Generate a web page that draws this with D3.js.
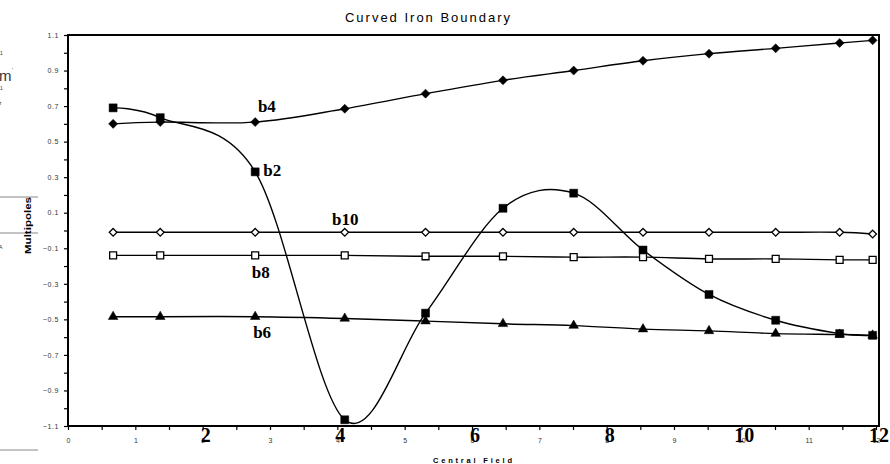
<!DOCTYPE html>
<html>
<head>
<meta charset="utf-8">
<script src="https://cdn.jsdelivr.net/npm/d3@7"></script>
<style>
  body { margin: 0; background: #fff; }
  svg { display: block; }
</style>
</head>
<body>
<svg class="chart" width="890" height="464"></svg>
<script>
const fieldValues = [0.67, 1.37, 2.78, 4.11, 5.31, 6.46, 7.51, 8.54, 9.52, 10.51, 11.46, 11.95];
const b2 = [0.69, 0.635, 0.33, -1.065, -0.465, 0.125, 0.21, -0.11, -0.36, -0.505, -0.58, -0.59];
const b4 = [0.60, 0.61, 0.61, 0.685, 0.77, 0.845, 0.90, 0.955, 0.995, 1.025, 1.055, 1.07];
const b6 = [-0.485, -0.485, -0.485, -0.495, -0.51, -0.525, -0.535, -0.555, -0.565, -0.58, -0.585, -0.59];
const b8 = [-0.14, -0.14, -0.14, -0.14, -0.145, -0.145, -0.15, -0.15, -0.16, -0.16, -0.165, -0.165];
const b10 = [-0.01, -0.01, -0.01, -0.01, -0.01, -0.01, -0.01, -0.01, -0.01, -0.01, -0.01, -0.02];

const yTicks = d3.range(-11, 12).map(d => d / 10);
const yLabels = [1.1, 0.9, 0.7, 0.5, 0.3, 0.1, -0.1, -0.3, -0.5, -0.7, -0.9, -1.1];
const xTicks = d3.range(0, 25).map(d => d / 2);
const bigXLabels = [2, 4, 6, 8, 10, 12];

// label anchors in data units
const seriesLabels = [
  { name: 'b4', field: 2.82, value: 0.667 },
  { name: 'b2', field: 2.9, value: 0.305 },
  { name: 'b10', field: 3.92, value: 0.03 },
  { name: 'b8', field: 2.73, value: -0.267 },
  { name: 'b6', field: 2.75, value: -0.605 }
];

const series = [
  { name: 'b2', values: b2, symbol: d3.symbolSquare, size: 64, fill: '#000' },
  { name: 'b4', values: b4, symbol: d3.symbolDiamond2, size: 52, fill: '#000' },
  { name: 'b6', values: b6, symbol: d3.symbolTriangle, size: 40, fill: '#000' },
  { name: 'b8', values: b8, symbol: d3.symbolSquare, size: 48, fill: '#fff' },
  { name: 'b10', values: b10, symbol: d3.symbolDiamond2, size: 38, fill: '#fff' }
];

const margin = { top: 35, right: 11, bottom: 38, left: 68 };
const width = 890 - margin.left - margin.right;
const height = 464 - margin.top - margin.bottom;

const x = d3.scaleLinear().domain([0, 12]).range([0, width - 3]);
const y = d3.scaleLinear().domain([-1.1, 1.1]).range([height, 0]);

const svg = d3.select('svg.chart');

// scraps of the neighbouring figure at the left edge
const scraps = svg.append('g').attr('fill', '#333').attr('font-family', 'Liberation Sans, Arial, sans-serif');
[197, 233, 450].forEach(yy => {
  scraps.append('line').attr('x1', 0).attr('x2', 38).attr('y1', yy).attr('y2', yy)
    .attr('stroke', '#888').attr('stroke-width', 1);
});
scraps.append('text').attr('x', -1).attr('y', 81).attr('font-size', 15).text('m');
scraps.append('text').attr('x', 12).attr('y', 72).attr('font-size', 5).text('\'');
scraps.append('text').attr('x', 0).attr('y', 55).attr('font-size', 5).text('1');
scraps.append('text').attr('x', 0).attr('y', 90).attr('font-size', 5).text('1');
scraps.append('text').attr('x', -1).attr('y', 105).attr('font-size', 5).text('z');
scraps.append('text').attr('x', -1).attr('y', 249).attr('font-size', 5).text('A');

svg.append('text')
  .attr('x', 345)
  .attr('y', 22)
  .attr('font-family', 'Liberation Sans, Arial, sans-serif')
  .attr('font-size', 13)
  .attr('textLength', 165)
  .attr('lengthAdjust', 'spacing')
  .attr('fill', '#000')
  .text('Curved Iron Boundary');

const canvas = svg.append('g').attr('transform', `translate(${margin.left}, ${margin.top})`);

canvas.append('defs').append('clipPath').attr('id', 'plot-clip')
  .append('rect').attr('x', 0).attr('y', 0).attr('width', width).attr('height', height);

const yAxis = d3.axisLeft(y)
  .tickValues(yTicks)
  .tickSize(4)
  .tickPadding(5)
  .tickFormat(d => yLabels.some(v => Math.abs(v - d) < 1e-9) ? d3.format('.1f')(d) : '');

canvas.append('g')
  .attr('class', 'y-axis')
  .call(yAxis)
  .call(g => g.select('.domain').remove())
  .call(g => g.selectAll('.tick line').attr('stroke', '#000').attr('stroke-width', 1.2))
  .call(g => g.selectAll('.tick text')
    .attr('font-family', 'Liberation Sans, Arial, sans-serif')
    .attr('font-size', 7)
    .attr('letter-spacing', 0.6)
    .attr('fill', '#333'));

const xAxis = d3.axisBottom(x)
  .tickValues(xTicks)
  .tickSize(4)
  .tickPadding(8)
  .tickFormat(d => Number.isInteger(d) ? d : '');

canvas.append('g')
  .attr('class', 'x-axis')
  .attr('transform', `translate(0, ${height})`)
  .call(xAxis)
  .call(g => g.select('.domain').remove())
  .call(g => g.selectAll('.tick line').attr('stroke', '#000').attr('stroke-width', 1.2))
  .call(g => g.selectAll('.tick text')
    .attr('font-family', 'Liberation Sans, Arial, sans-serif')
    .attr('font-size', 7)
    .attr('fill', '#333'));

canvas.selectAll('.bigX')
  .data(bigXLabels)
  .enter()
  .append('text')
  .attr('class', 'bigX')
  .attr('x', d => x(d) + 3)
  .attr('y', height + 16)
  .attr('text-anchor', 'middle')
  .attr('font-family', 'Liberation Serif, Times New Roman, serif')
  .attr('font-weight', 'bold')
  .attr('font-size', 20)
  .attr('fill', '#000')
  .text(d => d);

canvas.append('rect')
  .attr('x', 0)
  .attr('y', 0)
  .attr('width', width)
  .attr('height', height)
  .attr('fill', 'none')
  .attr('stroke', '#000')
  .attr('stroke-width', 2);

const line = d3.line()
  .x((d, i) => x(fieldValues[i]))
  .y(d => y(d))
  .curve(d3.curveCardinal.tension(0));

const plot = canvas.append('g').attr('clip-path', 'url(#plot-clip)');

plot.selectAll('.series')
  .data(series)
  .enter()
  .append('path')
  .attr('class', 'series')
  .attr('d', d => line(d.values))
  .attr('fill', 'none')
  .attr('stroke', '#000')
  .attr('stroke-width', 1.4);

series.forEach(s => {
  canvas.selectAll('.mark-' + s.name)
    .data(s.values)
    .enter()
    .append('path')
    .attr('class', 'mark-' + s.name)
    .attr('d', d3.symbol().type(s.symbol).size(s.size))
    .attr('transform', (d, i) => `translate(${x(fieldValues[i])}, ${y(d)})`)
    .attr('fill', s.fill)
    .attr('stroke', '#000')
    .attr('stroke-width', s.fill === '#fff' ? 1.3 : 0.5);
});

canvas.selectAll('.seriesLabel')
  .data(seriesLabels)
  .enter()
  .append('text')
  .attr('class', 'seriesLabel')
  .attr('x', d => x(d.field))
  .attr('y', d => y(d.value))
  .attr('font-family', 'Liberation Serif, Times New Roman, serif')
  .attr('font-weight', 'bold')
  .attr('font-size', 17)
  .attr('fill', '#000')
  .text(d => d.name);

svg.append('text')
  .attr('x', 433)
  .attr('y', 463)
  .attr('font-family', 'Liberation Sans, Arial, sans-serif')
  .attr('font-weight', 'bold')
  .attr('font-size', 7.5)
  .attr('textLength', 79)
  .attr('lengthAdjust', 'spacing')
  .attr('fill', '#000')
  .text('Central Field');

svg.append('text')
  .attr('transform', 'translate(31, 254) rotate(-90)')
  .attr('font-family', 'Liberation Sans, Arial, sans-serif')
  .attr('font-weight', 'bold')
  .attr('font-size', 9)
  .attr('textLength', 57)
  .attr('lengthAdjust', 'spacingAndGlyphs')
  .attr('fill', '#000')
  .text('Multipoles');
</script>
</body>
</html>
